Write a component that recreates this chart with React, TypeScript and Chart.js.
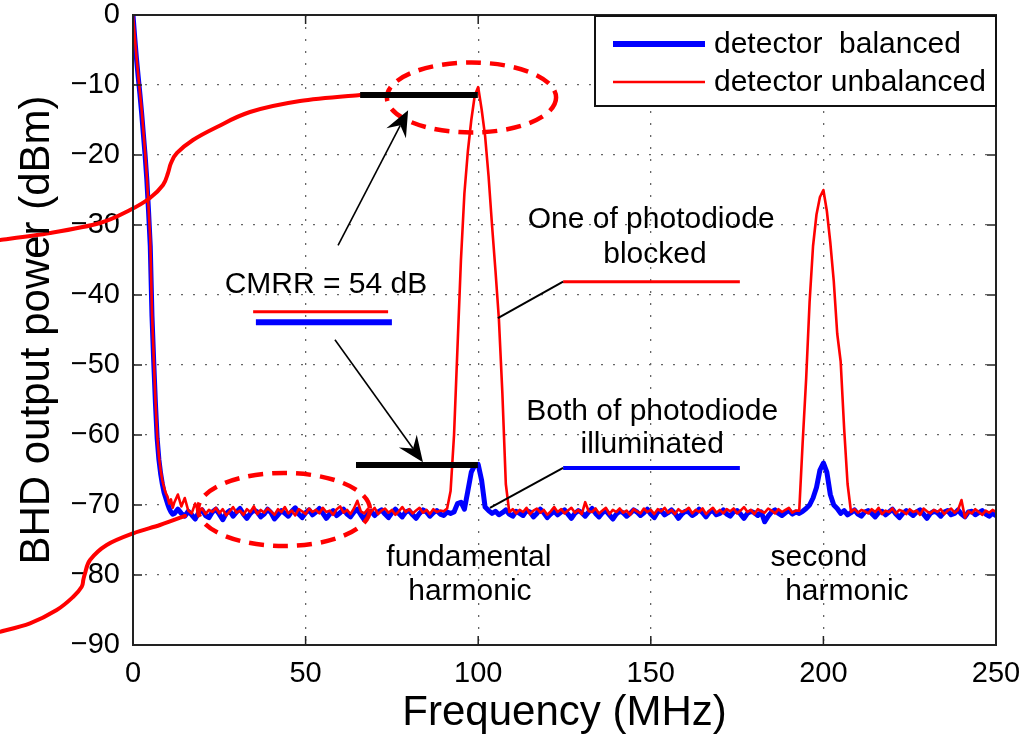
import React, { useEffect, useRef } from 'react';
import { Chart, registerables } from 'chart.js';

Chart.register(...registerables);

const FONT = '"Liberation Sans", Arial, Helvetica, sans-serif';

// Frequency grid (MHz)
const freqMHz = [
  0, 0.5, 1, 1.5, 2, 2.5, 3, 3.5, 4, 4.5, 5, 5.5, 6, 6.5, 7, 7.5, 8, 8.5, 9, 9.5, 10, 10.5, 11, 11.5, 12,
  13, 14, 15, 16, 17, 18, 19, 20, 21, 22,
  23, 24, 25, 26, 27, 28, 29, 30, 31, 32,
  33, 34, 35, 36, 37, 38, 39, 40, 41, 42,
  43, 44, 45, 46, 47, 48, 49, 50, 51, 52,
  53, 54, 55, 56, 57, 58, 59, 60, 61, 62,
  63, 64, 65, 66, 67, 68, 69, 70, 71, 72,
  73, 74, 75, 76, 77, 78, 79, 80, 81, 82,
  83, 84, 85, 86, 87, 88, 89, 90, 91, 92,
  93, 94, 95, 96, 97, 98, 99, 100, 101, 102,
  103, 104, 105, 106, 107, 108, 109, 110, 111, 112,
  113, 114, 115, 116, 117, 118, 119, 120, 121, 122,
  123, 124, 125, 126, 127, 128, 129, 130, 131, 132,
  133, 134, 135, 136, 137, 138, 139, 140, 141, 142,
  143, 144, 145, 146, 147, 148, 149, 150, 151, 152,
  153, 154, 155, 156, 157, 158, 159, 160, 161, 162,
  163, 164, 165, 166, 167, 168, 169, 170, 171, 172,
  173, 174, 175, 176, 177, 178, 179, 180, 181, 182,
  183, 184, 185, 186, 187, 188, 189, 190, 191, 192,
  193, 194, 195, 196, 197, 198, 199, 200, 201, 202,
  203, 204, 205, 206, 207, 208, 209, 210, 211, 212,
  213, 214, 215, 216, 217, 218, 219, 220, 221, 222,
  223, 224, 225, 226, 227, 228, 229, 230, 231, 232,
  233, 234, 235, 236, 237, 238, 239, 240, 241, 242,
  243, 244, 245, 246, 247, 248, 249, 250,
];

// detector balanced (blue), dBm
const balancedDbm = [
  0, -3.2, -6.2, -8.8, -11.3, -14, -17, -20, -23.5, -28, -33, -43, -49.5, -55.5, -60.5, -63.5, -65.5, -67, -68.2, -69, -69.8, -70.5, -71, -71.3, -71.2,
  -70.6, -71.2, -71.6, -70.9, -71.4, -72.0, -71.1, -70.7, -71.5, -71.8,
  -71.0, -70.6, -71.3, -72.1, -71.2, -70.8, -71.6, -71.0, -70.5, -71.3,
  -71.9, -71.2, -70.7, -71.0, -71.7, -71.3, -70.6, -71.1, -72.0, -71.4,
  -70.8, -71.2, -71.6, -70.9, -70.4, -71.3, -71.8, -71.1, -70.7, -71.4,
  -71.0, -70.5, -71.2, -71.9, -71.3, -70.8, -71.5, -71.1, -70.6, -71.3,
  -71.7, -71.0, -70.6, -71.4, -72.1, -71.2, -70.9, -71.5, -71.0, -70.7,
  -71.3, -71.8, -71.1, -70.6, -71.2, -71.7, -71.0, -70.8, -71.4, -71.9,
  -71.2, -70.7, -71.0, -71.6, -71.1, -70.8, -71.3, -71.5, -71.0, -71.2,
  -71.0, -69.8, -69.6, -70.6, -68.0, -65.3, -64.3, -64.2, -66.5, -70.3,
  -70.8, -71.2, -70.9, -71.4, -71.1, -70.7, -71.3, -71.6, -70.9, -71.2,
  -71.5, -70.8, -71.0, -71.7, -71.2, -70.6, -71.1, -71.8, -71.3, -70.9,
  -71.4, -71.0, -70.7, -71.3, -71.9, -71.2, -70.8, -71.1, -71.6, -71.0,
  -70.5, -71.2, -71.7, -71.1, -70.8, -71.4, -72.0, -71.3, -70.9, -71.1,
  -71.6, -71.2, -70.7, -71.0, -71.5, -71.1, -70.6, -71.3, -71.8, -71.0,
  -70.8, -71.4, -71.1, -70.7, -71.2, -71.9, -71.3, -70.9, -71.0, -71.5,
  -71.2, -70.6, -71.1, -71.7, -71.0, -70.8, -71.4, -71.2, -70.7, -71.3,
  -71.6, -71.0, -70.8, -71.3, -71.9, -71.2, -70.9, -71.1, -71.5, -71.0,
  -72.4, -71.6, -71.0, -70.7, -71.2, -71.5, -71.1, -70.8, -71.3, -71.0,
  -71.2, -70.9, -70.5, -70.0, -69.0, -67.5, -65.0, -64.0, -65.3, -68.5,
  -70.0, -70.5, -71.2, -70.8, -71.4, -71.1, -70.7, -71.3, -71.6, -71.0,
  -70.8, -71.2, -71.7, -71.1, -70.9, -71.4, -71.0, -70.6, -71.3, -71.8,
  -71.2, -70.8, -71.1, -71.5, -71.0, -70.7, -71.3, -71.9, -71.2, -70.9,
  -71.1, -71.6, -71.0, -70.8, -71.4, -71.2, -70.7, -71.3, -71.7, -71.0,
  -70.9, -71.4, -71.1, -70.8, -71.3, -71.6, -71.2, -71.5,
];

// detector unbalanced (red), dBm
const unbalancedDbm = [
  0, -3, -6, -8.5, -11, -13.5, -16.5, -19.5, -23, -27.5, -32, -42.5, -48.8, -55, -60, -63, -65, -66.5, -67.5, -68.3, -68.8, -69.8, -69.2, -70.4, -69.6,
  -68.5, -70.2, -69.0, -70.8, -71.2, -69.8, -71.0, -70.5, -71.3, -70.7,
  -71.0, -70.4, -71.2, -70.6, -71.5, -70.9, -70.3, -71.1, -70.8, -71.4,
  -70.6, -71.0, -70.2, -71.3, -70.7, -71.1, -70.5, -70.9, -71.4, -70.6,
  -71.0, -70.3, -71.2, -70.8, -71.5, -70.6, -70.9, -71.3, -70.5, -71.0,
  -70.7, -71.2, -70.4, -71.0, -70.8, -71.4, -70.6, -70.2, -71.1, -70.7,
  -71.3, -70.5, -69.4, -70.9, -71.2, -70.6, -71.0, -70.4, -71.3, -70.8,
  -70.5, -71.1, -70.7, -71.4, -70.9, -70.3, -71.0, -70.6, -71.2, -70.8,
  -70.4, -71.1, -70.7, -71.3, -70.6, -71.0, -70.8, -70.9, -70.5, -68.0,
  -60.0, -47.5, -35.0, -25.5, -19.5, -15.0, -11.5, -10.3, -13.5, -17.3,
  -23.0, -30.0, -36.5, -43.5, -54.0, -67.0, -71.0, -70.6, -71.2, -70.7,
  -71.0, -70.4, -71.3, -70.8, -70.5, -71.1, -70.7, -71.4, -70.9, -70.3,
  -71.0, -70.6, -71.2, -70.8, -70.4, -71.1, -70.7, -71.3, -69.6, -70.9,
  -71.0, -70.5, -71.2, -70.8, -70.4, -71.3, -70.7, -71.0, -70.5, -71.1,
  -70.8, -71.4, -70.6, -70.9, -71.2, -70.5, -71.0, -70.7, -71.3, -70.6,
  -70.9, -70.4, -71.1, -70.7, -71.3, -70.6, -71.0, -70.8, -70.4, -71.2,
  -70.7, -71.0, -70.5, -71.3, -70.8, -70.4, -71.1, -70.7, -71.2, -70.6,
  -70.9, -70.5, -71.2, -70.8, -70.3, -71.0, -70.7, -71.3, -70.6, -70.9,
  -71.1, -70.5, -70.8, -71.2, -70.6, -71.0, -70.7, -70.4, -71.1, -70.8,
  -70.8, -61.0, -52.0, -41.0, -33.0, -28.5, -26.0, -25.0, -28.0, -32.5,
  -38.0, -45.5, -49.5, -59.0, -67.0, -71.0, -70.6, -71.1, -70.7, -70.9,
  -71.2, -70.6, -71.0, -70.4, -71.3, -70.8, -71.0, -70.5, -71.2, -70.7,
  -70.9, -71.3, -70.6, -71.0, -70.8, -71.4, -70.5, -70.9, -71.2, -70.7,
  -71.0, -70.6, -71.3, -70.8, -70.5, -71.1, -70.7, -69.3, -71.8, -70.9,
  -71.2, -70.6, -71.0, -71.4, -70.8, -71.1, -70.7, -71.0,
];

const xTicks = [0, 50, 100, 150, 200, 250];
const yTicks = [0, -10, -20, -30, -40, -50, -60, -70, -80, -90];

const seriesLabels = ['detector  balanced', 'detector unbalanced'];
const xTitle = 'Frequency (MHz)';
const yTitle = 'BHD output power (dBm)';

// Annotations (in data units: MHz, dBm)
const annotationTexts = [
  { text: 'CMRR = 54 dB', at: [55.9, -38.6] },
  { text: 'One of photodiode', at: [150.1, -29.3] },
  { text: 'blocked', at: [151.2, -34.3] },
  { text: 'Both of photodiode', at: [150.4, -56.7] },
  { text: 'illuminated', at: [150.4, -61.4] },
  { text: 'fundamental', at: [97.3, -77.6] },
  { text: 'harmonic', at: [97.6, -82.4] },
  { text: 'second', at: [198.7, -77.6] },
  { text: 'harmonic', at: [206.8, -82.4] },
];

const levelBars = [
  { from: [65.8, -11.43], to: [99.9, -11.43] },
  { from: [64.6, -64.3], to: [99.9, -64.3] },
];

const arrows = [
  { from: [59.4, -32.9], to: [79.7, -13.6] },
  { from: [58.5, -46.4], to: [84.0, -63.9] },
];

const calloutLines = [
  { from: [34.8, -42.4], to: [73.9, -42.4], color: '#ff0000', width: 3 },
  { from: [35.6, -43.9], to: [75.0, -43.9], color: '#0000ff', width: 6 },
  { from: [124.6, -38.1], to: [175.8, -38.1], color: '#ff0000', width: 3 },
  { from: [124.6, -38.1], to: [105.7, -43.3], color: '#000000', width: 2 },
  { from: [124.6, -64.7], to: [175.8, -64.7], color: '#0000ff', width: 4 },
  { from: [124.6, -64.7], to: [103.4, -70.4], color: '#000000', width: 2 },
];

const dashedEllipses = [
  { center: [98.06, -11.79], rx: 24.5, ry: 5.0 },
  { center: [43.74, -70.64], rx: 24.9, ry: 5.21 },
];

const sCurves = [
  [
    [-38.53, -32.14], [-24.04, -31.14], [-9.56, -29.71], [-0.87, -27.86], [4.92, -26.14],
    [8.69, -24.29], [10.14, -22.57], [11.01, -21.14], [12.75, -19.71], [17.38, -17.86],
    [24.33, -16.0], [33.89, -13.86], [48.38, -12.29], [65.76, -11.43],
  ],
  [
    [-38.53, -88.1], [-29.84, -86.9], [-22.1, -85.0], [-17.3, -83.1], [-14.86, -81.67],
    [-14.4, -80.71], [-13.9, -79.76], [-12.45, -77.86], [-7.62, -75.71], [0.09, -74.04],
    [7.82, -72.86], [15.06, -71.57],
  ],
];

function fmtTick(v: number) {
  return v < 0 ? '\u2212' + Math.abs(v) : String(v);
}

const annotationPlugin = {
  id: 'annotations',
  afterDatasetsDraw(chart: any) {
    const { ctx, scales } = chart;
    const xs = scales.x;
    const ys = scales.y;
    const P = (p: number[]) => [xs.getPixelForValue(p[0]), ys.getPixelForValue(p[1])];
    ctx.save();
    ctx.lineCap = 'butt';
    ctx.lineJoin = 'round';

    // dashed ellipses
    ctx.strokeStyle = '#ff0000';
    ctx.lineWidth = 4.5;
    ctx.setLineDash([15, 9]);
    for (const e of dashedEllipses) {
      const [cx, cy] = P(e.center);
      const rxp = Math.abs(xs.getPixelForValue(e.center[0] + e.rx) - cx);
      const ryp = Math.abs(ys.getPixelForValue(e.center[1] - e.ry) - cy);
      ctx.beginPath();
      ctx.ellipse(cx, cy, rxp, ryp, 0, 0, Math.PI * 2);
      ctx.stroke();
    }
    ctx.setLineDash([]);

    // S curves
    ctx.lineWidth = 4;
    ctx.strokeStyle = '#ff0000';
    ctx.lineCap = 'round';
    for (const curve of sCurves) {
      const pts = curve.map(P);
      ctx.beginPath();
      ctx.moveTo(pts[0][0], pts[0][1]);
      for (let i = 0; i < pts.length - 1; i++) {
        const p0 = pts[i - 1] || pts[i];
        const p1 = pts[i];
        const p2 = pts[i + 1];
        const p3 = pts[i + 2] || p2;
        ctx.bezierCurveTo(
          p1[0] + (p2[0] - p0[0]) / 6, p1[1] + (p2[1] - p0[1]) / 6,
          p2[0] - (p3[0] - p1[0]) / 6, p2[1] - (p3[1] - p1[1]) / 6,
          p2[0], p2[1]
        );
      }
      ctx.stroke();
    }
    ctx.lineCap = 'butt';

    // callout lines
    for (const l of calloutLines) {
      const a = P(l.from);
      const b = P(l.to);
      ctx.strokeStyle = l.color;
      ctx.lineWidth = l.width;
      ctx.beginPath();
      ctx.moveTo(a[0], a[1]);
      ctx.lineTo(b[0], b[1]);
      ctx.stroke();
    }

    // level bars
    ctx.strokeStyle = '#000';
    ctx.lineWidth = 6;
    for (const l of levelBars) {
      const a = P(l.from);
      const b = P(l.to);
      ctx.beginPath();
      ctx.moveTo(a[0], a[1]);
      ctx.lineTo(b[0], b[1]);
      ctx.stroke();
    }

    // arrows
    for (const ar of arrows) {
      const a = P(ar.from);
      const b = P(ar.to);
      const ang = Math.atan2(b[1] - a[1], b[0] - a[0]);
      const dx = Math.cos(ang), dy = Math.sin(ang);
      const L = 26, W = 11, back = 17;
      ctx.strokeStyle = '#000';
      ctx.lineWidth = 1.6;
      ctx.beginPath();
      ctx.moveTo(a[0], a[1]);
      ctx.lineTo(b[0] - dx * back, b[1] - dy * back);
      ctx.stroke();
      ctx.fillStyle = '#000';
      ctx.beginPath();
      ctx.moveTo(b[0], b[1]);
      ctx.lineTo(b[0] - dx * L - dy * W, b[1] - dy * L + dx * W);
      ctx.lineTo(b[0] - dx * back, b[1] - dy * back);
      ctx.lineTo(b[0] - dx * L + dy * W, b[1] - dy * L - dx * W);
      ctx.closePath();
      ctx.fill();
    }

    // texts
    ctx.fillStyle = '#000';
    ctx.font = `30px ${FONT}`;
    ctx.textAlign = 'center';
    ctx.textBaseline = 'middle';
    for (const t of annotationTexts) {
      const [px, py] = P(t.at);
      ctx.fillText(t.text, px, py);
    }
    ctx.restore();
  },
  afterDraw(chart: any) {
    const { ctx, chartArea: ca, scales } = chart;
    const xs = scales.x;
    const ys = scales.y;
    ctx.save();
    // inward ticks
    ctx.strokeStyle = '#222';
    ctx.lineWidth = 1.5;
    const tl = 9;
    for (const v of xTicks) {
      const px = xs.getPixelForValue(v);
      ctx.beginPath();
      ctx.moveTo(px, ca.bottom); ctx.lineTo(px, ca.bottom - tl);
      ctx.moveTo(px, ca.top); ctx.lineTo(px, ca.top + tl);
      ctx.stroke();
    }
    for (const v of yTicks) {
      const py = ys.getPixelForValue(v);
      ctx.beginPath();
      ctx.moveTo(ca.left, py); ctx.lineTo(ca.left + tl, py);
      ctx.moveTo(ca.right, py); ctx.lineTo(ca.right - tl, py);
      ctx.stroke();
    }
    // box
    ctx.lineWidth = 2;
    ctx.strokeRect(ca.left, ca.top, ca.right - ca.left, ca.bottom - ca.top);

    // legend
    const bw = 401, bh = 90;
    const bx = ca.right - bw, by = ca.top + 1;
    ctx.fillStyle = '#fff';
    ctx.fillRect(bx, by, bw, bh);
    ctx.strokeStyle = '#111';
    ctx.lineWidth = 2;
    ctx.strokeRect(bx, by, bw, bh);
    const rows = [
      { label: seriesLabels[0], color: '#0000ff', w: 6, y: by + 28 },
      { label: seriesLabels[1], color: '#ff0000', w: 2.5, y: by + 66 },
    ];
    ctx.font = `30px ${FONT}`;
    ctx.textAlign = 'left';
    ctx.textBaseline = 'middle';
    for (const r of rows) {
      ctx.strokeStyle = r.color;
      ctx.lineWidth = r.w;
      ctx.beginPath();
      ctx.moveTo(bx + 18, r.y);
      ctx.lineTo(bx + 110, r.y);
      ctx.stroke();
      ctx.fillStyle = '#000';
      ctx.fillText(r.label, bx + 119, r.y + 1);
    }

    // axis titles
    ctx.fillStyle = '#000';
    ctx.font = `42px ${FONT}`;
    ctx.textAlign = 'center';
    ctx.textBaseline = 'middle';
    ctx.fillText(xTitle, (ca.left + ca.right) / 2, ca.bottom + 68);
    ctx.save();
    ctx.translate(37, (ca.top + ca.bottom) / 2);
    ctx.rotate(-Math.PI / 2);
    ctx.fillText(yTitle, 0, 0);
    ctx.restore();
    ctx.restore();
  },
};

export default function App() {
  const ref = useRef<HTMLCanvasElement | null>(null);
  useEffect(() => {
    if (!ref.current) return;
    const blueData = freqMHz.map((f, i) => ({ x: f, y: balancedDbm[i] }));
    const redData = freqMHz.map((f, i) => ({ x: f, y: unbalancedDbm[i] }));
    const chart = new Chart(ref.current, {
      type: 'line',
      data: {
        datasets: [
          {
            label: seriesLabels[0],
            data: blueData,
            borderColor: '#0000ff',
            backgroundColor: '#0000ff',
            borderWidth: 5,
            pointRadius: 0,
            tension: 0,
            borderJoinStyle: 'round',
            borderCapStyle: 'round',
            order: 2,
          },
          {
            label: seriesLabels[1],
            data: redData,
            borderColor: '#ff0000',
            backgroundColor: '#ff0000',
            borderWidth: 2.6,
            pointRadius: 0,
            tension: 0,
            borderJoinStyle: 'round',
            order: 1,
          },
        ],
      },
      options: {
        animation: false,
        responsive: true,
        maintainAspectRatio: false,
        events: [],
        layout: { autoPadding: false, padding: { top: 15, right: 31, left: 0, bottom: 0 } },
        plugins: { legend: { display: false }, tooltip: { enabled: false } },
        scales: {
          x: {
            type: 'linear',
            min: 0,
            max: 250,
            afterFit: (s: any) => { s.height = 90; s.paddingLeft = 0; s.paddingRight = 0; },
            afterBuildTicks: (s: any) => { s.ticks = xTicks.map((v) => ({ value: v })); },
            ticks: {
              callback: (v: any) => fmtTick(Number(v)),
              font: { size: 29, family: FONT },
              color: '#000',
              padding: 12,
              maxRotation: 0,
            },
            grid: { color: '#666', lineWidth: 1.3, drawTicks: false },
            border: { display: false, dash: [2, 10] },
          },
          y: {
            type: 'linear',
            min: -90,
            max: 0,
            afterFit: (s: any) => { s.width = 133; s.paddingTop = 0; s.paddingBottom = 0; },
            afterBuildTicks: (s: any) => { s.ticks = yTicks.map((v) => ({ value: v })); },
            ticks: {
              callback: (v: any) => fmtTick(Number(v)),
              font: { size: 29, family: FONT },
              color: '#000',
              padding: 13,
            },
            grid: { color: '#666', lineWidth: 1.3, drawTicks: false },
            border: { display: false, dash: [2, 10] },
          },
        },
      },
      plugins: [annotationPlugin],
    } as any);
    return () => chart.destroy();
  }, []);
  return (
    <div style={{ position: 'fixed', left: 0, top: 0, width: 1027, height: 735, background: '#fff' }}>
      <canvas ref={ref} />
    </div>
  );
}
